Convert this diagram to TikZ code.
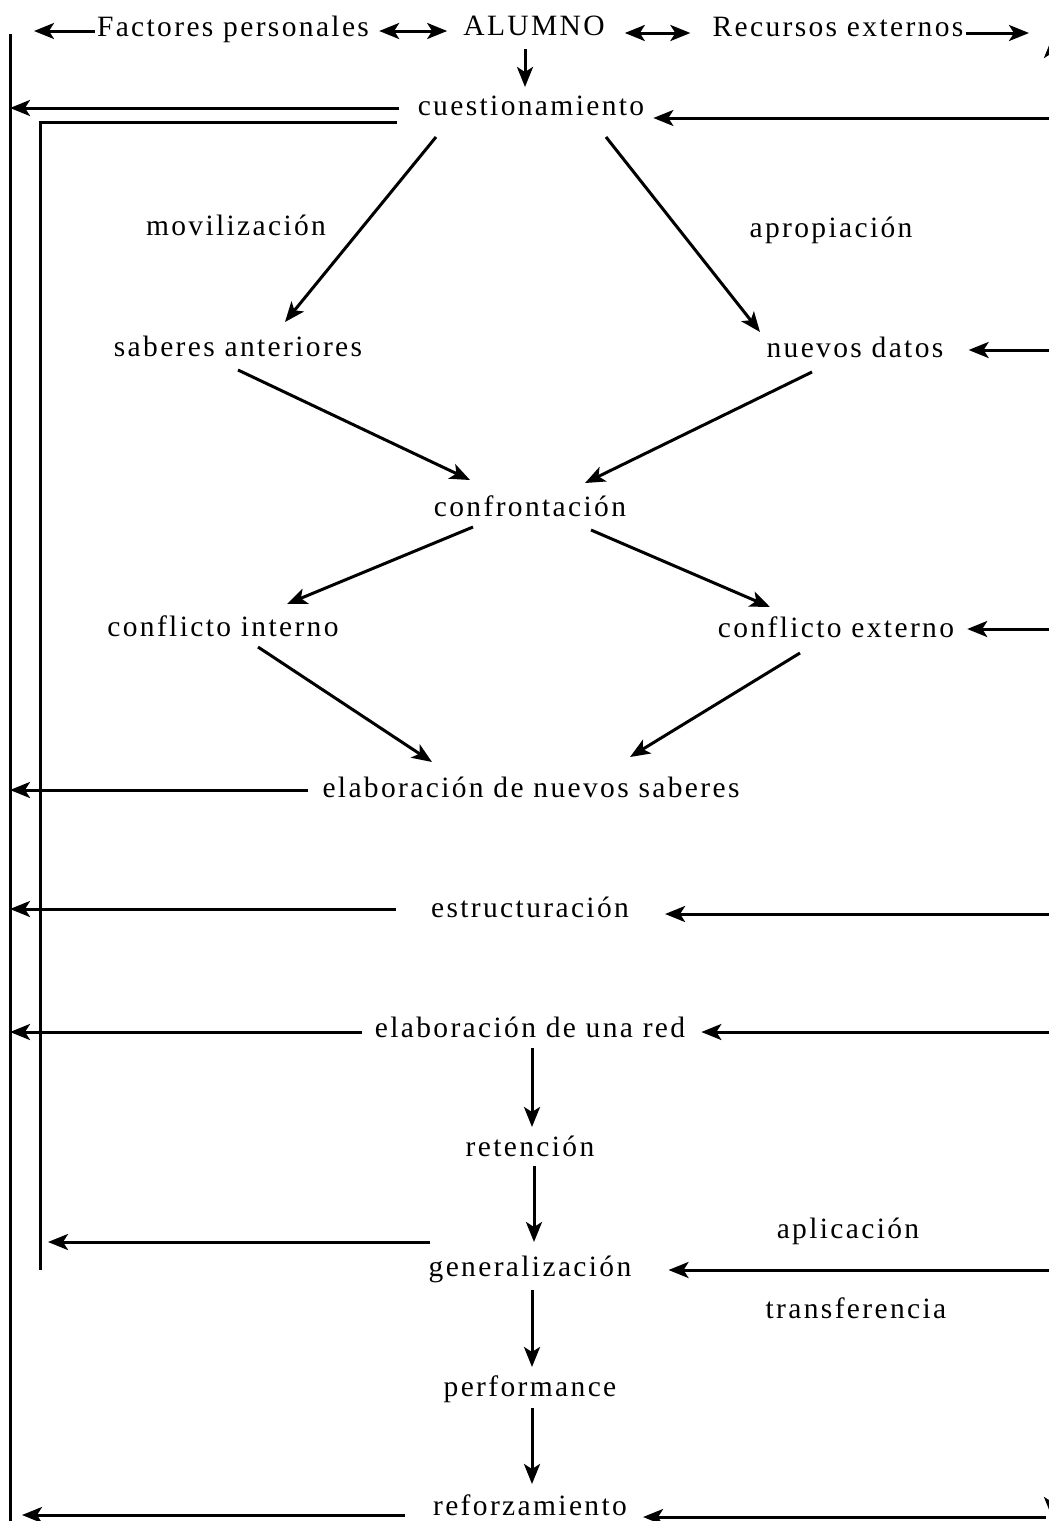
\documentclass[tikz,border=0pt]{standalone}
\usepackage{fontspec}
\newfontfamily\diafont{Liberation Serif}[LetterSpace=8]
\usetikzlibrary{arrows.meta,calc}

\begin{document}
\begin{tikzpicture}[x=1pt, y=-1pt,
    >={Stealth[length=20pt, width=16pt, inset=5pt]},
    every node/.style={inner sep=0pt, text height=20pt, text depth=6pt,
      font=\diafont\fontsize{29.5}{34}\selectfont},
    arr/.style={->, line width=3pt},
    dbl/.style={<->, line width=3pt},
    ln/.style={line width=3pt}]
      \useasboundingbox (0,0) rectangle (1049,1521);

      \node (fact) at (233,29) {Factores personales};
      \node (alumno) at (534,28) {ALUMNO};
      \node (recu) at (838,29) {Recursos externos};
      \node (cues) at (531,108) {cuestionamiento};
      \node (movil) at (236,228) {movilización};
      \node (aprop) at (831,230) {apropiación};
      \node (sab) at (238,349) {saberes anteriores};
      \node (nuev) at (855,350) {nuevos datos};
      \node (conf) at (530,509) {confrontación};
      \node (cint) at (223,629) {conflicto interno};
      \node (cext) at (836,630) {conflicto externo};
      \node (elab) at (531,790) {elaboración de nuevos saberes};
      \node (estr) at (530,910) {estructuración};
      \node (red) at (530,1030) {elaboración de una red};
      \node (ret) at (530,1149) {retención};
      \node (gen) at (530,1269) {generalización};
      \node (aplic) at (848,1231) {aplicación};
      \node (trans) at (856,1311) {transferencia};
      \node (perf) at (530,1389) {performance};
      \node (refz) at (530,1508) {reforzamiento};

      % lineas de los bordes
      \coordinate (otop) at (10,34);
      \coordinate (obot) at (10,1521);
      \coordinate (ibot) at (40,1270);
      \coordinate (rtop) at (1052,38);
      \coordinate (rbot) at (1052,1517);
      \coordinate (ftip) at (34,31);
      \coordinate (rtip) at (1029,33);
      \draw[ln] (otop) -- (obot);
      \draw[dbl] (rbot) -- (rtop);

      % fila superior
      \draw[arr] (fact.west |- ftip) ++(-2,0) -- (ftip);
      \coordinate (d1) at ($(fact.east)+(10,2)$);
      \draw[dbl] (d1) -- ($(alumno.west |- d1)+(-16,0)$);
      \coordinate (d2) at ($(alumno.east)+(20,5)$);
      \draw[dbl] (d2) -- ($(recu.west |- d2)+(-22,0)$);
      \draw[arr] (recu.east |- rtip) ++(2,0) -- (rtip);
      \draw[arr] ($(alumno)+(-9,21)$) -- ($(cues)+(-6,-21)$);

      % hacia la izquierda
      \draw[arr] (cues.west) ++(-19,0) -- (cues.west -| otop);
      \draw[ln] ($(cues.west)+(-21,14)$) -| (ibot);
      \draw[arr] (elab.west) ++(-14,0) -- (elab.west -| otop);
      \draw[arr] (estr.west) ++(-35,-1) -- ($(estr.west -| otop)+(0,-1)$);
      \draw[arr] ($(red.west)+(-13,2)$) -- ($(red.west -| otop)+(0,2)$);
      \draw[arr] ($(gen.west)+(2,-27)$) -- ($(gen.west -| ibot)+(8,-27)$);
      \draw[arr] ($(refz.west)+(-28,7)$) -- ($(refz.west -| otop)+(12,7)$);

      % desde la derecha
      \draw[arr] ($(cues.east -| rtop)+(0,10)$) -- ($(cues.east)+(9,10)$);
      \draw[arr] (nuev.east -| rtop) -- ($(nuev.east)+(25,0)$);
      \draw[arr] ($(cext.east -| rtop)+(0,-1)$) -- ($(cext.east)+(13,-1)$);
      \draw[arr] ($(estr.east -| rtop)+(0,4)$) -- ($(estr.east)+(36,4)$);
      \draw[arr] ($(red.east -| rtop)+(0,2)$) -- ($(red.east)+(16,2)$);
      \draw[arr] ($(gen.east -| rtop)+(0,1)$) -- ($(gen.east)+(37,1)$);
      \draw[arr] ($(refz.east -| rtop)+(-6,9)$) -- ($(refz.east)+(16,9)$);

      % centro
      \draw[arr] ($(cues)+(-95,29)$) -- ($(sab)+(47,-27)$);
      \draw[arr] ($(cues)+(75,29)$) -- ($(nuev)+(-95,-18)$);
      \draw[arr] ($(sab)+(0,21)$) -- ($(conf)+(-60,-29)$);
      \draw[arr] ($(nuev)+(-43,22)$) -- ($(conf)+(55,-26)$);
      \draw[arr] ($(conf)+(-57,18)$) -- ($(cint)+(64,-25)$);
      \draw[arr] ($(conf)+(61,21)$) -- ($(cext)+(-66,-23)$);
      \draw[arr] ($(cint)+(35,18)$) -- ($(elab)+(-99,-28)$);
      \draw[arr] ($(cext)+(-36,23)$) -- ($(elab)+(99,-33)$);
      \draw[arr] ($(red)+(2,18)$) -- ($(ret)+(2,-22)$);
      \draw[arr] ($(ret)+(4,17)$) -- ($(gen)+(4,-27)$);
      \draw[arr] ($(gen)+(2,21)$) -- ($(perf)+(2,-22)$);
      \draw[arr] ($(perf)+(2,19)$) -- ($(refz)+(2,-24)$);
    \end{tikzpicture}
\end{document}
